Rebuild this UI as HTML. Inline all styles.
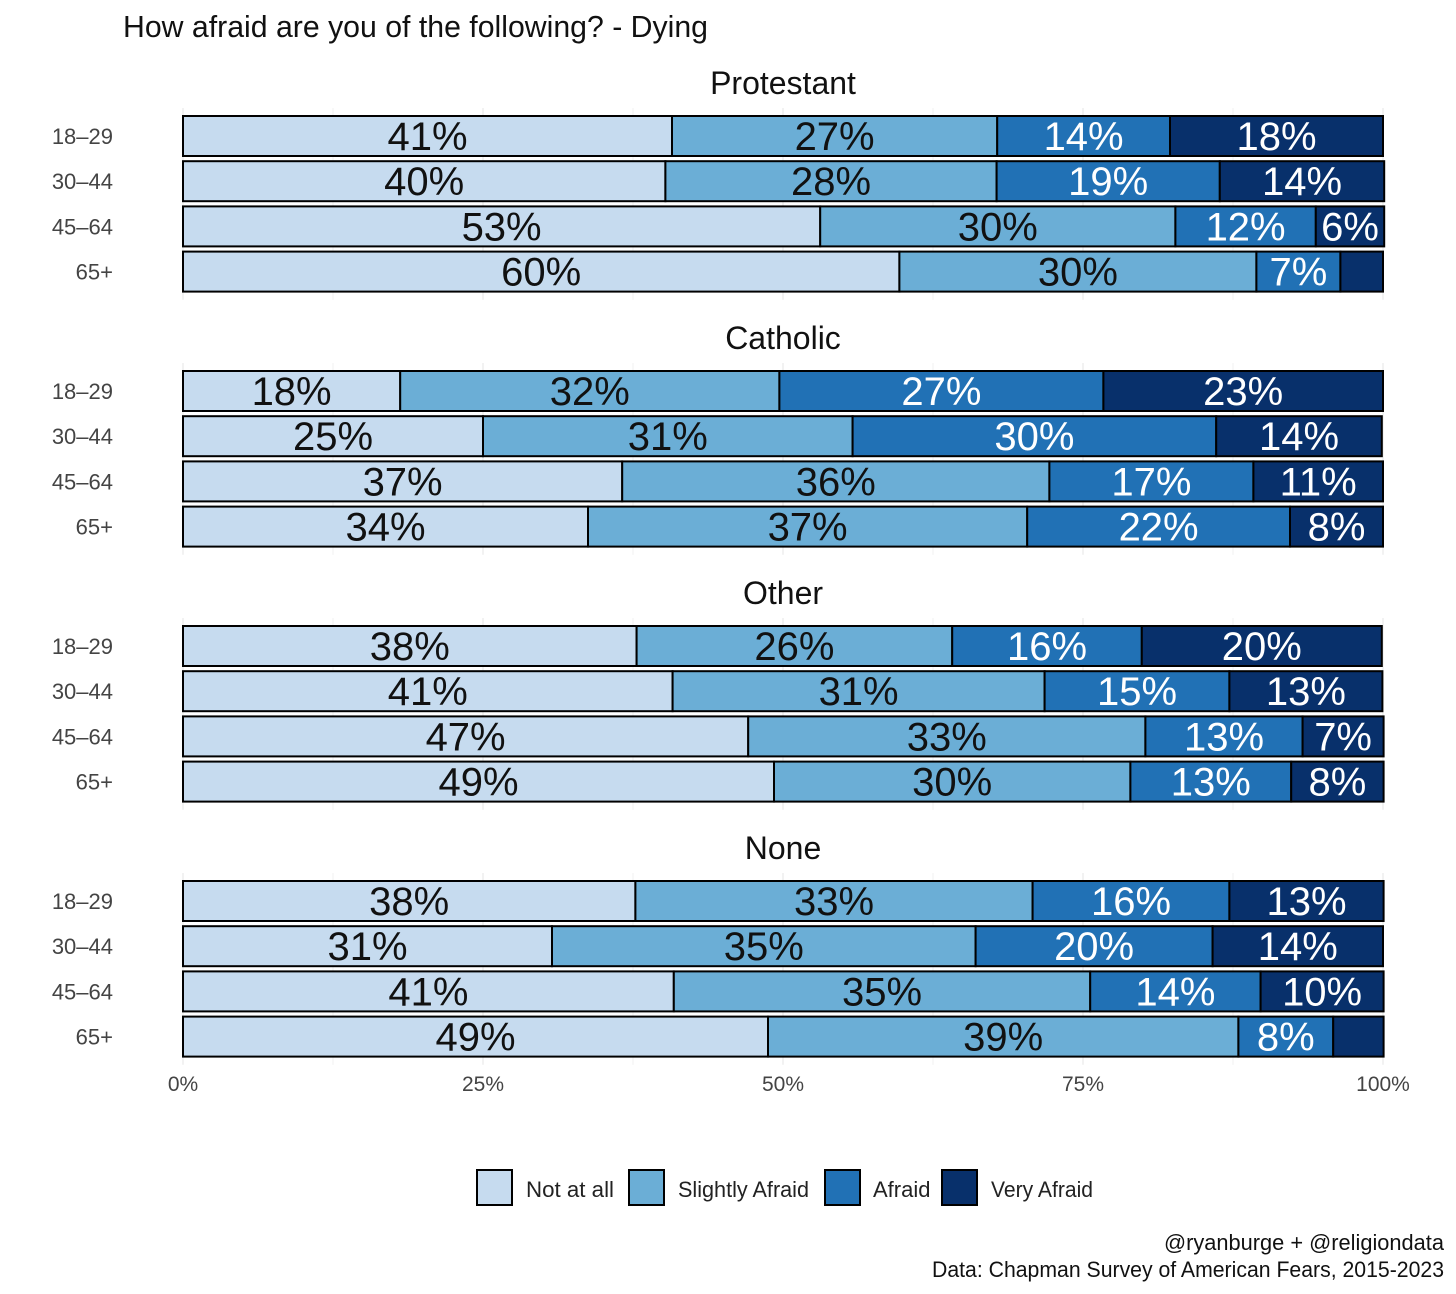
<!DOCTYPE html>
<html><head><meta charset="utf-8"><style>
body{margin:0;background:#fff;}
svg{display:block;font-family:"Liberation Sans Narrow","Liberation Sans",sans-serif;}
</style></head><body>
<svg id="chart" width="1456" height="1294" viewBox="0 0 1456 1294" xmlns="http://www.w3.org/2000/svg">
<text x="123" y="37" font-size="31" fill="#111" textLength="585" lengthAdjust="spacingAndGlyphs">How afraid are you of the following? - Dying</text>
<g id="grid"></g><g id="panels"></g>
<g>
 <rect x="477" y="1170" width="35" height="35" fill="#c6dbef" stroke="#000" stroke-width="2"/>
 <text x="526" y="1197" font-size="22" fill="#222" textLength="88" lengthAdjust="spacingAndGlyphs">Not at all</text>
 <rect x="629" y="1170" width="35" height="35" fill="#6baed6" stroke="#000" stroke-width="2"/>
 <text x="678" y="1197" font-size="22" fill="#222" textLength="131" lengthAdjust="spacingAndGlyphs">Slightly Afraid</text>
 <rect x="825" y="1170" width="35" height="35" fill="#2171b5" stroke="#000" stroke-width="2"/>
 <text x="873" y="1197" font-size="22" fill="#222">Afraid</text>
 <rect x="942" y="1170" width="35" height="35" fill="#08306b" stroke="#000" stroke-width="2"/>
 <text x="991" y="1197" font-size="22" fill="#222" textLength="102" lengthAdjust="spacingAndGlyphs">Very Afraid</text>
</g>
<text x="1444" y="1250" font-size="22" text-anchor="end" fill="#111" textLength="280" lengthAdjust="spacingAndGlyphs">@ryanburge + @religiondata</text>
<text x="1444" y="1277" font-size="22" text-anchor="end" fill="#111" textLength="512" lengthAdjust="spacingAndGlyphs">Data: Chapman Survey of American Fears, 2015-2023</text>
</svg>
<script>
const panelNames = ["Protestant","Catholic","Other","None"];
const ageGroups = ["18–29","30–44","45–64","65+"];
const seriesNames = ["Not at all","Slightly Afraid","Afraid","Very Afraid"];
const notAtAll = [[40.75,40.2,53.1,59.7],[18.1,25,36.6,33.75],[37.8,40.8,47.1,49.25],[37.7,30.75,40.9,48.75]];
const slightly = [[27.1,27.6,29.6,29.75],[31.6,30.8,35.6,36.6],[26.3,31,33.1,29.7],[33.1,35.3,34.7,39.2]];
const afraid = [[14.4,18.6,11.7,7],[27,30.3,17,21.9],[15.8,15.4,13.1,13.4],[16.4,19.75,14.2,7.9]];
const veryAfraid = [[17.75,13.7,5.7,3.55],[23.3,13.8,10.8,7.75],[20,12.75,6.75,7.7],[12.85,14.2,10.25,4.2]];
const xTicks = [0,25,50,75,100];
const tickLabels = ["0%","25%","50%","75%","100%"];

const NS="http://www.w3.org/2000/svg";
const colors=["#c6dbef","#6baed6","#2171b5","#08306b"];
const textCol=["#111","#111","#fff","#fff"];
const x0=183,x1=1383;
const xs=v=>x0+(x1-x0)*v/100;
const panelTop=[116,371,626,881];
const rowStep=45.2, barH=40;
function mk(tag,attrs,parent){const e=document.createElementNS(NS,tag);for(const k in attrs)e.setAttribute(k,attrs[k]);parent.appendChild(e);return e;}
const grid=document.getElementById('grid'),panels=document.getElementById('panels');
panelTop.forEach((t,p)=>{
  for(let v=0;v<=100;v+=12.5){
    const l=mk('line',{x1:xs(v),x2:xs(v),y1:t-8,y2:t+4*rowStep+3,stroke:v%25===0?'#e4e4e4':'#f0f0f0','stroke-width':1},grid);
    
    
  }
});
const allSeries=[notAtAll,slightly,afraid,veryAfraid];
panelNames.forEach((pn,p)=>{
  const g=mk('g',{},panels);
  
  
  const tt=mk('text',{x:783,y:panelTop[p]-22,'font-size':32,'text-anchor':'middle',fill:'#111'},g);
  tt.textContent=pn;
  
  
  ageGroups.forEach((ag,r)=>{
    const y=panelTop[p]+r*rowStep;
    const yl=mk('text',{x:113,y:y+barH/2+8,'font-size':22,'text-anchor':'end',fill:'#444'},g);
    yl.textContent=ag;
    
    
    let cum=0;
    allSeries.forEach((s,k)=>{
      const v=s[p][r];
      const rc=mk('rect',{x:xs(cum),y:y,width:xs(cum+v)-xs(cum),height:barH,fill:colors[k],stroke:'#000','stroke-width':2},g);
      
      
      if(v>=5){
        const lb=mk('text',{x:xs(cum+v/2),y:y+barH/2+14,'font-size':40,'text-anchor':'middle',fill:textCol[k]},g);
        lb.textContent=Math.round(v)+'%';
        
        
      }
      cum+=v;
    });
  });
});
xTicks.forEach((v,i)=>{
  const t=mk('text',{x:xs(v),y:1091,'font-size':21,'text-anchor':'middle',fill:'#444'},grid);
  t.textContent=tickLabels[i];
  
  
});
</script>
</body></html>
